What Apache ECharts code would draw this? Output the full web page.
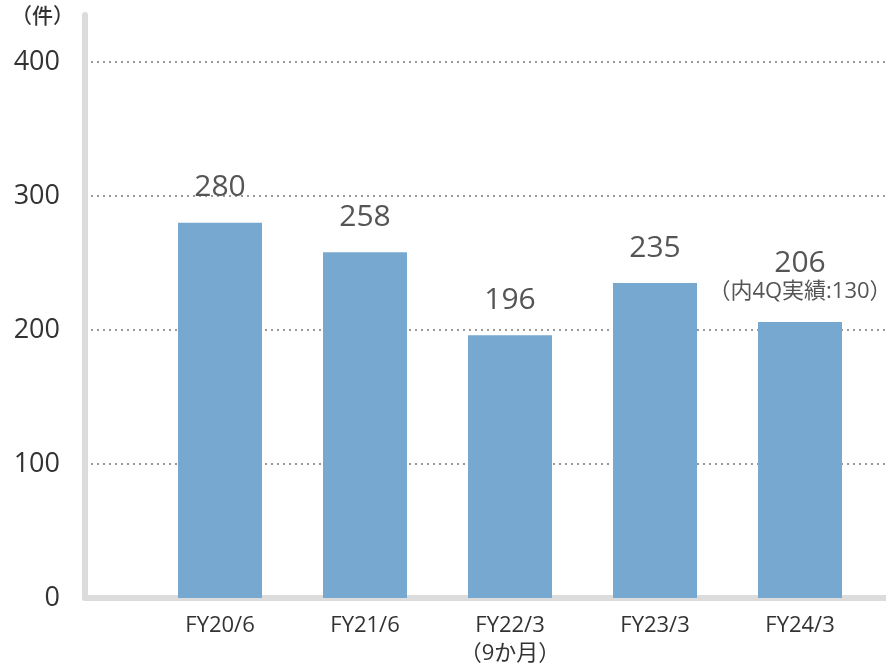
<!DOCTYPE html>
<html><head><meta charset="utf-8">
<script src="https://cdn.jsdelivr.net/npm/echarts@6/dist/echarts.min.js"></script>
<style>html,body{margin:0;padding:0;background:#fff}#c{width:886px;height:670px}</style>
</head><body><div id="c"></div>
<script>
const categories = ['FY20/6', 'FY21/6', 'FY22/3\n（9か月）', 'FY23/3', 'FY24/3'];
const values = [280, 258, 196, 235, 206];
const notes = ['', '', '', '', '（内4Q実績:130）'];
const yTicks = { min: 0, max: 400, interval: 100 };
const unitLabel = '（件）';

const FONT = '"Open Sans", "Noto Sans CJK JP", sans-serif';
const chart = echarts.init(document.getElementById('c'), null, { renderer: 'canvas' });
chart.setOption({
  animation: false,
  textStyle: { fontFamily: FONT },
  graphic: [{
    type: 'text', left: 11, top: 5,
    style: { text: unitLabel, font: '500 21px "Noto Sans CJK JP", sans-serif', fill: '#333' }
  }],
  grid: [
    { left: 85, right: 1, top: 15, bottom: 72 },
    { left: 85, right: 1, top: 62, bottom: 72 },
    { left: 147.5, width: 725, top: 62, bottom: 72 }
  ],
  xAxis: [
    { gridIndex: 0, type: 'category', data: [], axisLine: { show: true, lineStyle: { color: '#dcdcdc', width: 6 } },
      axisTick: { show: false }, axisLabel: { show: false } },
    { gridIndex: 1, type: 'category', data: [], show: false },
    { gridIndex: 2, type: 'category', data: categories,
      axisLine: { show: false }, axisTick: { show: false },
      axisLabel: { color: '#333', fontSize: 22, fontFamily: FONT, margin: 14, lineHeight: 28 } }
  ],
  yAxis: [
    { gridIndex: 0, type: 'value', min: 0, max: 435, axisLine: { show: true, lineStyle: { color: '#dcdcdc', width: 6 } },
      axisTick: { show: false }, axisLabel: { show: false }, splitLine: { show: false } },
    { gridIndex: 1, type: 'value', min: yTicks.min, max: yTicks.max, interval: yTicks.interval,
      axisLine: { show: false }, axisTick: { show: false },
      axisLabel: { color: '#333', fontSize: 27, fontFamily: FONT, margin: 25 },
      splitLine: { show: true, lineStyle: { color: '#999', type: [2, 4], width: 2 } } },
    { gridIndex: 2, type: 'value', min: yTicks.min, max: yTicks.max, show: false, splitLine: { show: false } }
  ],
  series: [{
    type: 'bar', xAxisIndex: 2, yAxisIndex: 2,
    barWidth: 84,
    itemStyle: { color: '#76a8d0' },
    data: values.map(v => ({ value: v })),
    label: {
      show: true, position: 'top', distance: 18,
      formatter: p => notes[p.dataIndex] ? '{v|' + p.value + '}\n{n|' + notes[p.dataIndex] + '}' : '{v|' + p.value + '}',
      rich: {
        v: { fontSize: 30, color: '#555', fontFamily: FONT, lineHeight: 34 },
        n: { fontSize: 22, color: '#555', fontFamily: FONT, lineHeight: 24 }
      }
    }
  }]
});
</script></body></html>
